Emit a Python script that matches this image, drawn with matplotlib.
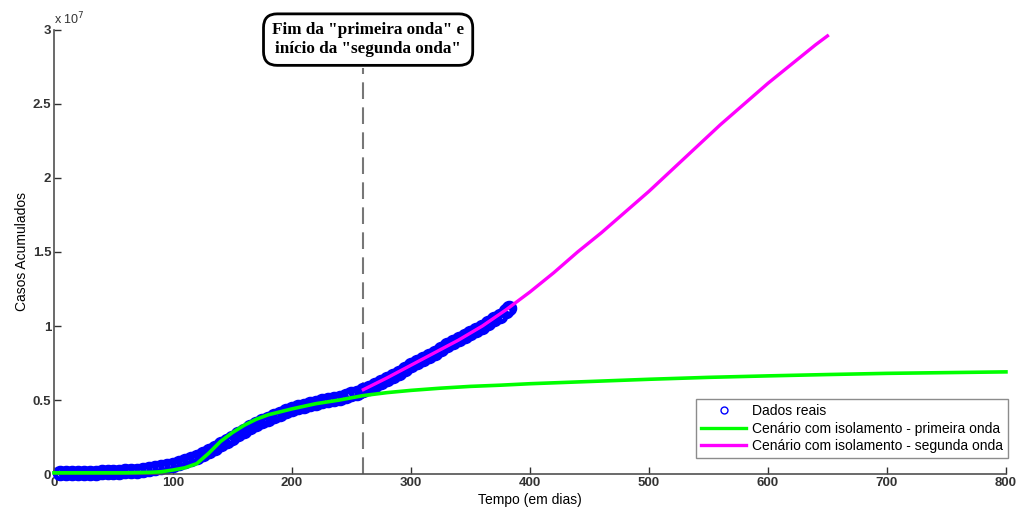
import matplotlib.pyplot as plt
from matplotlib.lines import Line2D

plt.rcParams['font.family'] = ['Liberation Sans', 'DejaVu Sans']

# Dados reais (casos acumulados, x 10^7), a cada 5 dias
dias_reais = list(range(5, 381, 5)) + [382]
casos_reais = [0.008, 0.008, 0.008, 0.008, 0.008, 0.009, 0.01, 0.011, 0.012,
               0.013, 0.015, 0.017, 0.02, 0.023, 0.027, 0.032, 0.039, 0.046, 0.053,
               0.06, 0.072, 0.086, 0.1, 0.116, 0.134, 0.155, 0.177, 0.2, 0.222,
               0.245, 0.27, 0.293, 0.315, 0.336, 0.356, 0.374, 0.392, 0.408, 0.423,
               0.437, 0.45, 0.462, 0.473, 0.483, 0.492, 0.5, 0.508, 0.516, 0.526,
               0.538, 0.55, 0.565, 0.58, 0.6, 0.62, 0.64, 0.66, 0.685, 0.71,
               0.735, 0.755, 0.775, 0.797, 0.82, 0.845, 0.87, 0.89, 0.91, 0.93,
               0.955, 0.975, 0.995, 1.02, 1.045, 1.07, 1.1, 1.12]

# Cenario - primeira onda
dias_p1 = [0, 20, 40, 60, 80, 90, 100, 110, 120, 130, 140, 150, 160, 170, 180,
           200, 220, 240, 260, 280, 300, 325, 350, 375, 400, 450, 500, 550, 600,
           650, 700, 750, 800]
casos_p1 = [0.008, 0.008, 0.008, 0.008, 0.011, 0.015, 0.027, 0.042, 0.07, 0.14,
            0.22, 0.28, 0.33, 0.37, 0.40, 0.44, 0.475, 0.50, 0.53, 0.55, 0.565,
            0.58, 0.592, 0.60, 0.61, 0.625, 0.64, 0.653, 0.663, 0.672, 0.68,
            0.685, 0.69]

# Cenario - segunda onda
dias_p2 = [260, 280, 300, 320, 340, 360, 380, 400, 420, 440, 460, 480, 500,
           520, 540, 560, 580, 600, 620, 640, 650]
casos_p2 = [0.57, 0.65, 0.735, 0.82, 0.905, 1.0, 1.11, 1.23, 1.36, 1.50, 1.63,
            1.77, 1.91, 2.06, 2.21, 2.36, 2.50, 2.64, 2.77, 2.90, 2.96]

dia_corte = 260

fig = plt.figure(figsize=(10.22, 5.11), dpi=100)
ax = fig.add_axes([0.0528, 0.0724, 0.9315, 0.8689])

ax.plot(dias_reais, [c * 1e7 for c in casos_reais], 'o', color='#0000ff',
        markerfacecolor='none', markersize=7.8, markeredgewidth=3.4, zorder=2,
        clip_on=False)
ax.plot(dias_p1, [c * 1e7 for c in casos_p1], color='#00ff00', lw=2.6, zorder=3,
        clip_on=False)
ax.plot(dias_p2, [c * 1e7 for c in casos_p2], color='#ff00ff', lw=2.4, zorder=4)

ax.plot([dia_corte, dia_corte], [0, 2.74e7], color='#777777', lw=1.5,
        dashes=(8, 4), zorder=1)

ax.set_xlim(0, 800)
ax.set_ylim(0, 3e7)
ax.set_xticks(range(0, 801, 100))
ax.set_yticks([0, 0.5e7, 1e7, 1.5e7, 2e7, 2.5e7, 3e7])
ax.set_yticklabels(['0', '0.5', '1', '1.5', '2', '2.5', '3'])

for s in ['top', 'right']:
    ax.spines[s].set_visible(False)
for s in ['left', 'bottom']:
    ax.spines[s].set_color('#505050')
    ax.spines[s].set_linewidth(1.2)
ax.tick_params(direction='in', length=5, width=1, colors='#303030',
               labelsize=9.5, pad=2)
for lab in ax.get_xticklabels() + ax.get_yticklabels():
    lab.set_fontweight('bold')
    lab.set_color('#333333')

ax.text(0.0, 1.005, r'x 10$^{7}$', transform=ax.transAxes, fontsize=9,
        color='#333333', va='bottom', ha='left')

ax.set_xlabel('Tempo (em dias)', fontsize=10, labelpad=3)
ax.set_ylabel('Casos Acumulados', fontsize=10, labelpad=3)

ax.text(264, 2.935e7, 'Fim da "primeira onda" e\ninício da "segunda onda"',
        ha='center', va='center', fontsize=12.3, fontweight='bold',
        family='Liberation Serif', linespacing=1.2,
        bbox=dict(boxstyle='round,pad=0.5,rounding_size=0.8', fc='white',
                  ec='black', lw=2))

handles = [
    Line2D([], [], marker='o', ls='none', color='#0000ff',
           markerfacecolor='none', markersize=5, markeredgewidth=1),
    Line2D([], [], color='#00ff00', lw=2.4),
    Line2D([], [], color='#ff00ff', lw=2.4),
]
labels = ['Dados reais', 'Cenário com isolamento - primeira onda',
          'Cenário com isolamento - segunda onda']
leg = ax.legend(handles, labels, loc='lower right', bbox_to_anchor=(1.002, 0.036),
                fontsize=10, frameon=True, fancybox=False, borderpad=0.35,
                labelspacing=0.25, handlelength=3.3, handletextpad=0.4,
                borderaxespad=0)
leg.get_frame().set_edgecolor('#707070')
leg.get_frame().set_linewidth(1)

fig.savefig('out.png', dpi=100)
